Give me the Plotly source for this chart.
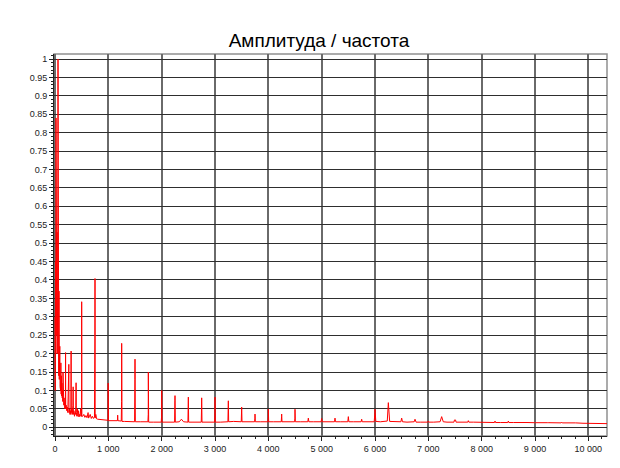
import plotly.graph_objects as go

# Spectrum samples (frequency, amplitude)
freq = [
    0, 5, 10, 15, 19, 23, 28, 33, 38, 43, 50, 56, 60, 65, 70, 75, 80, 85, 90, 95,
    100, 105, 110, 115, 120, 125, 130, 135, 140, 145, 150, 155, 160, 165, 170, 175,
    180, 185, 190, 195, 198, 201, 210, 220, 230, 240, 248, 252, 259, 262, 270, 280,
    290, 298, 302, 305, 315, 325, 335, 340, 345, 355, 365, 375, 385, 390, 395, 400,
    410, 420, 430, 440, 450, 460, 470, 480, 490, 497, 499, 500, 503, 520, 540, 560,
    580, 600, 620, 630, 660, 680, 700, 720, 740, 748, 750, 753, 765, 780, 800, 850,
    900, 950, 994, 995, 997, 1003, 1050, 1100, 1170, 1175, 1180, 1242, 1248, 1250, 1256,
    1300, 1400, 1492, 1498, 1500, 1506, 1600, 1742, 1748, 1750, 1756, 1850, 1992, 1998,
    2000, 2006, 2100, 2242, 2248, 2250, 2256, 2330, 2370, 2410, 2492, 2498, 2500, 2506,
    2600, 2742, 2748, 2750, 2756, 2850, 2992, 2998, 3000, 3006, 3100, 3242, 3248, 3250,
    3256, 3350, 3492, 3498, 3500, 3506, 3600, 3742, 3748, 3750, 3756, 3850, 3992, 3998,
    4000, 4006, 4100, 4242, 4248, 4250, 4256, 4350, 4492, 4498, 4500, 4506, 4600, 4740,
    4750, 4760, 4850, 4990, 5000, 5010, 5100, 5240, 5250, 5260, 5350, 5490, 5500, 5510,
    5600, 5740, 5750, 5760, 5850, 5985, 5998, 6000, 6015, 6100, 6230, 6248, 6250, 6275,
    6350, 6485, 6500, 6515, 6600, 6735, 6750, 6770, 6850, 6990, 7000, 7010, 7100, 7220,
    7250, 7280, 7350, 7480, 7490, 7510, 7520, 7600, 7740, 7750, 7760, 7850, 7990, 8000,
    8010, 8100, 8240, 8250, 8260, 8350, 8490, 8500, 8510, 8600, 8740, 8750, 8760, 8850,
    8990, 9000, 9010, 9240, 9250, 9260, 9490, 9500, 9510, 9740, 9750, 9760, 9900, 10050,
    10100, 10250, 10300, 10350,
]
amp = [
    0.30, 0.10, 0.45, 0.20, 0.84, 0.30, 0.65, 0.25, 0.53, 0.20, 0.35, 1.00, 0.18, 0.30,
    0.14, 0.37, 0.13, 0.18, 0.22, 0.11, 0.16, 0.10, 0.175, 0.09, 0.14, 0.085, 0.12, 0.08,
    0.10, 0.07, 0.15, 0.07, 0.09, 0.06, 0.08, 0.055, 0.07, 0.05, 0.065, 0.05, 0.203, 0.05,
    0.06, 0.045, 0.055, 0.04, 0.10, 0.04, 0.171, 0.04, 0.05, 0.035, 0.045, 0.035, 0.207,
    0.04, 0.05, 0.035, 0.06, 0.11, 0.035, 0.045, 0.03, 0.04, 0.035, 0.06, 0.121, 0.04,
    0.03, 0.05, 0.03, 0.045, 0.028, 0.035, 0.03, 0.05, 0.03, 0.03, 0.085, 0.341, 0.03,
    0.03, 0.035, 0.027, 0.032, 0.026, 0.04, 0.025, 0.035, 0.024, 0.03, 0.024, 0.028,
    0.24, 0.404, 0.025, 0.035, 0.023, 0.022, 0.021, 0.02, 0.019, 0.019, 0.045, 0.12,
    0.018, 0.018, 0.018, 0.018, 0.033, 0.018, 0.017, 0.07, 0.228, 0.016, 0.016, 0.016,
    0.015, 0.13, 0.185, 0.015, 0.015, 0.015, 0.035, 0.15, 0.014, 0.014, 0.014, 0.03,
    0.10, 0.014, 0.014, 0.014, 0.072, 0.086, 0.014, 0.015, 0.022, 0.015, 0.014, 0.05,
    0.082, 0.014, 0.014, 0.014, 0.055, 0.08, 0.014, 0.014, 0.014, 0.04, 0.082, 0.014,
    0.014, 0.015, 0.06, 0.072, 0.015, 0.016, 0.015, 0.045, 0.055, 0.015, 0.015, 0.015,
    0.025, 0.036, 0.015, 0.015, 0.015, 0.03, 0.049, 0.015, 0.015, 0.015, 0.03, 0.036,
    0.015, 0.015, 0.015, 0.025, 0.049, 0.015, 0.015, 0.015, 0.025, 0.015, 0.015, 0.015,
    0.024, 0.015, 0.015, 0.015, 0.025, 0.015, 0.015, 0.015, 0.029, 0.015, 0.015, 0.015,
    0.022, 0.015, 0.015, 0.015, 0.04, 0.049, 0.016, 0.015, 0.017, 0.05, 0.067, 0.016,
    0.015, 0.015, 0.025, 0.015, 0.014, 0.015, 0.022, 0.014, 0.014, 0.014, 0.017, 0.014,
    0.014, 0.015, 0.029, 0.015, 0.014, 0.014, 0.02, 0.02, 0.014, 0.014, 0.014, 0.018,
    0.014, 0.014, 0.013, 0.0145, 0.013, 0.013, 0.013, 0.017, 0.013, 0.013, 0.013, 0.017,
    0.013, 0.013, 0.013, 0.015, 0.013, 0.013, 0.0125, 0.0136, 0.0125, 0.0125, 0.0135,
    0.0125, 0.012, 0.014, 0.012, 0.012, 0.014, 0.012, 0.011, 0.011, 0.009, 0.009, 0.01,
    0.01,
]

title_text = "Амплитуда / частота"
x_tick_vals = [0, 1000, 2000, 3000, 4000, 5000, 6000, 7000, 8000, 9000, 10000]
x_tick_text = ["0", "1 000", "2 000", "3 000", "4 000", "5 000", "6 000",
               "7 000", "8 000", "9 000", "10 000"]
y_tick_vals = [0, 0.05, 0.1, 0.15, 0.2, 0.25, 0.3, 0.35, 0.4, 0.45, 0.5,
               0.55, 0.6, 0.65, 0.7, 0.75, 0.8, 0.85, 0.9, 0.95, 1]
y_tick_text = ["0", "0.05", "0.1", "0.15", "0.2", "0.25", "0.3", "0.35", "0.4",
               "0.45", "0.5", "0.55", "0.6", "0.65", "0.7", "0.75", "0.8", "0.85",
               "0.9", "0.95", "1"]

fig = go.Figure()
fig.add_trace(go.Scatter(
    x=freq, y=amp, mode="lines",
    line=dict(color="#ff0000", width=1),
    hoverinfo="x+y", showlegend=False,
))

font = "Liberation Sans, Arial, sans-serif"
# page body has an 8px margin, so the figure is 612x460 placed at (8, 8)
fig.update_layout(
    width=612, height=460,
    margin=dict(l=46, r=13, t=46, b=32),
    paper_bgcolor="white", plot_bgcolor="white",
    title=dict(text=title_text, x=311 / 612, xanchor="center", xref="container",
               y=1 - 32 / 460, yref="container", yanchor="middle",
               font=dict(family=font, size=19, color="#000")),
    font=dict(family=font, size=9, color="#222"),
    xaxis=dict(
        range=[-19, 10350], tickvals=x_tick_vals, ticktext=x_tick_text,
        showgrid=True, gridcolor="#6a6a6a", gridwidth=1.6,
        zeroline=False, showline=True, linecolor="#222", linewidth=1,
        ticks="outside", ticklen=4, tickcolor="#222",
        minor=dict(dtick=250, ticklen=2, tickcolor="#222", showgrid=False, ticks="outside"),
        tickfont=dict(family=font, size=9, color="#222"),
    ),
    yaxis=dict(
        range=[-0.0236, 1.0136], tickvals=y_tick_vals, ticktext=y_tick_text,
        showgrid=True, gridcolor="#2e2e2e", gridwidth=1.2,
        zeroline=False, showline=True, linecolor="#222", linewidth=1,
        ticks="outside", ticklen=4, tickcolor="#222",
        minor=dict(dtick=0.01, ticklen=2, tickcolor="#222", showgrid=False, ticks="outside"),
        tickfont=dict(family=font, size=9, color="#222"),
    ),
    shapes=[dict(type="rect", xref="paper", yref="paper", x0=0, x1=1, y0=0, y1=1,
                 line=dict(color="#909090", width=1.5), layer="below")],
)

fig.write_html("out.html")
